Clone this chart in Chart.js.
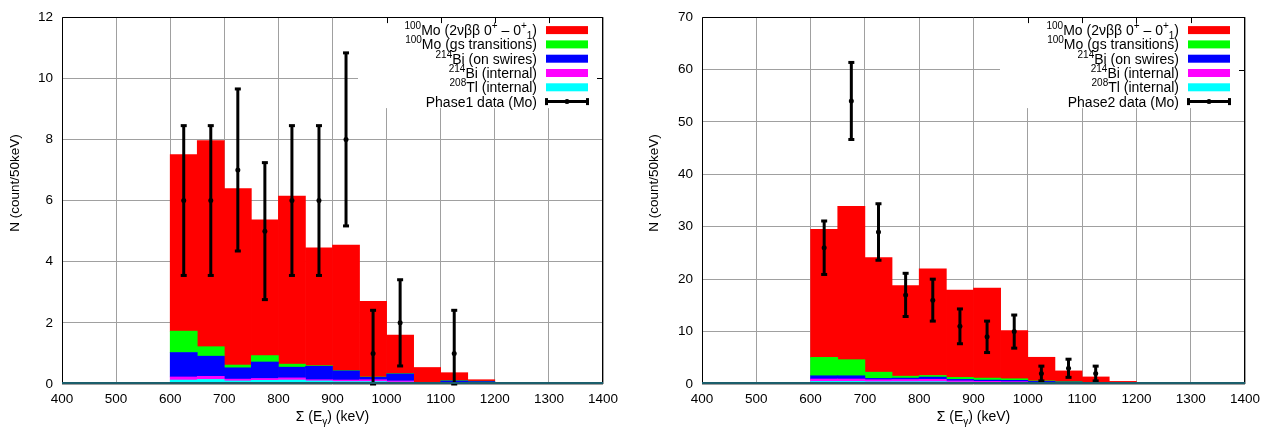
<!DOCTYPE html>
<html>
<head>
<meta charset="utf-8">
<script src="https://cdn.jsdelivr.net/npm/chart.js@4.4.1/dist/chart.umd.min.js"></script>
<style>
  html, body { margin: 0; padding: 0; background: #fff; }
  #wrap { position: relative; width: 1276px; height: 430px; }
  canvas { position: absolute; top: 0; }
</style>
</head>
<body>
<div id="wrap">
  <canvas id="phase1" width="638" height="430" style="left:0"></canvas>
  <canvas id="phase2" width="638" height="430" style="left:638px"></canvas>
</div>
<script>
// bin centres, 50 keV bins from 600 to 1200
const binCenters = [625, 675, 725, 775, 825, 875, 925, 975, 1025, 1075, 1125, 1175];

// Phase 1 MC components (counts / 50 keV)
const p1Mo2nuExc = [5.77, 6.74, 5.77, 4.44, 5.50, 3.85, 4.10, 2.47, 1.26, 0.49, 0.26, 0.05];
const p1MoGs     = [0.70, 0.31, 0.09, 0.21, 0.10, 0.02, 0.01, 0.01, 0.01, 0.01, 0.01, 0.01];
const p1BiSwires = [0.80, 0.66, 0.37, 0.54, 0.35, 0.44, 0.30, 0.08, 0.23, 0.01, 0.06, 0.05];
const p1BiInt    = [0.10, 0.10, 0.06, 0.06, 0.07, 0.04, 0.05, 0.06, 0.04, 0.01, 0.02, 0.02];
const p1TlInt    = [0.13, 0.15, 0.10, 0.12, 0.13, 0.10, 0.08, 0.08, 0.06, 0.02, 0.02, 0.01];
// Phase 1 data
const p1Data  = [6, 6, 7, 5, 6, 6, 8, 1, 2, null, 1, null];
const p1ErrLo = [2.45, 2.45, 2.65, 2.24, 2.45, 2.45, 2.83, 1.0, 1.41, null, 1.0, null];
const p1ErrHi = [2.45, 2.45, 2.65, 2.24, 2.45, 2.45, 2.83, 1.41, 1.41, null, 1.41, null];

// Phase 2 MC components
const p2Mo2nuExc = [24.42, 29.26, 21.84, 17.30, 20.33, 16.64, 17.17, 9.20, 4.50, 2.05, 1.05, 0.38];
const p2MoGs     = [3.51, 3.07, 1.19, 0.37, 0.31, 0.38, 0.38, 0.30, 0.10, 0.07, 0.05, 0.02];
const p2BiSwires = [0.62, 0.62, 0.25, 0.28, 0.42, 0.28, 0.25, 0.25, 0.20, 0.13, 0.10, 0.02];
const p2BiInt    = [0.45, 0.45, 0.38, 0.40, 0.45, 0.25, 0.20, 0.20, 0.10, 0.10, 0.05, 0.03];
const p2TlInt    = [0.50, 0.50, 0.44, 0.45, 0.45, 0.35, 0.30, 0.25, 0.20, 0.15, 0.10, 0.05];
// Phase 2 data
const p2Data  = [26, 54, 29, 17, 16, 11, 9, 10, 2, 3, 2, null];
const p2ErrLo = [5.1, 7.35, 5.39, 4.12, 4.0, 3.32, 3.0, 3.16, 1.41, 1.73, 1.41, null];
const p2ErrHi = [5.1, 7.35, 5.39, 4.12, 4.0, 3.32, 3.0, 3.16, 1.41, 1.73, 1.41, null];

// legend text, s: 1 = superscript, -1 = subscript
const mcLabels = [
  [{t: '100', s: 1}, {t: 'Mo (2νββ 0'}, {t: '+', s: 1}, {t: ' – 0'}, {t: '+', s: 1}, {t: '1', s: -1}, {t: ')'}],
  [{t: '100', s: 1}, {t: 'Mo (gs transitions)'}],
  [{t: '214', s: 1}, {t: 'Bi (on swires)'}],
  [{t: '214', s: 1}, {t: 'Bi (internal)'}],
  [{t: '208', s: 1}, {t: 'Tl (internal)'}]
];
const mcColors = ['#ff0000', '#00ff00', '#0000ff', '#ff00ff', '#00ffff'];
const xTitle = [{t: 'Σ (E'}, {t: 'γ', s: -1}, {t: ') (keV)'}];
const yTitle = 'N (count/50keV)';

const FONT = '"Liberation Sans", Arial, sans-serif';

function fontFor(s) {
  return (s ? '10px ' : '14px ') + FONT;
}
function richWidth(ctx, segs) {
  let w = 0;
  segs.forEach(sg => { ctx.font = fontFor(sg.s); w += ctx.measureText(sg.t).width; });
  return w;
}
function drawRich(ctx, segs, x, y) {
  segs.forEach(sg => {
    ctx.font = fontFor(sg.s);
    const dy = sg.s === 1 ? -6 : (sg.s === -1 ? 3.5 : 0);
    ctx.fillText(sg.t, x, y + dy);
    x += ctx.measureText(sg.t).width;
  });
}

// gnuplot-ish decorations: error bars, legend box, border, axis titles
function decor(cfg) {
  return {
    id: 'decor',
    afterDatasetsDraw(chart) {
      const ctx = chart.ctx, xs = chart.scales.x, ys = chart.scales.y;
      ctx.save();
      ctx.fillStyle = '#000';
      ctx.strokeStyle = '#000';
      ctx.lineWidth = 3;
      cfg.data.forEach((v, i) => {
        if (v === null) return;
        const x = xs.getPixelForValue(binCenters[i]);
        const yTop = ys.getPixelForValue(v + cfg.errHi[i]);
        const yBot = ys.getPixelForValue(Math.max(0, v - cfg.errLo[i]));
        ctx.beginPath();
        ctx.moveTo(x, yTop);
        ctx.lineTo(x, yBot);
        ctx.stroke();
        ctx.fillRect(x - 3, yTop - 1.5, 6, 3);
        ctx.fillRect(x - 3, yBot - 1.5, 6, 3);
      });
      ctx.restore();
    },
    afterDraw(chart) {
      const ctx = chart.ctx, a = chart.chartArea;
      const xs = chart.scales.x, ys = chart.scales.y;
      ctx.save();
      // legend box (white, hides the grid)
      const bx = a.right - 245, by = a.top, bw = 245, bh = 91;
      ctx.fillStyle = '#fff';
      ctx.fillRect(bx, by, bw, bh);
      // inward tick marks visible inside the legend box
      ctx.save();
      ctx.beginPath();
      ctx.rect(bx, by, bw, bh);
      ctx.clip();
      ctx.strokeStyle = '#000';
      ctx.lineWidth = 1;
      xs.ticks.forEach(t => {
        const x = Math.round(xs.getPixelForValue(t.value)) + 0.5;
        ctx.beginPath(); ctx.moveTo(x, a.top); ctx.lineTo(x, a.top + 6); ctx.stroke();
      });
      ys.ticks.forEach(t => {
        const y = Math.round(ys.getPixelForValue(t.value)) + 0.5;
        ctx.beginPath(); ctx.moveTo(a.right, y); ctx.lineTo(a.right - 6, y); ctx.stroke();
      });
      ctx.restore();

      // legend entries
      ctx.fillStyle = '#000';
      ctx.textBaseline = 'alphabetic';
      const textRight = a.right - 66;
      const swL = a.right - 57, swR = a.right - 15;
      for (let k = 0; k < 6; k++) {
        const cy = a.top + 13 + k * 14.3;
        const segs = k < 5 ? mcLabels[k] : [{t: cfg.dataLabel}];
        ctx.fillStyle = '#000';
        drawRich(ctx, segs, textRight - richWidth(ctx, segs), cy + 5);
        if (k < 5) {
          ctx.fillStyle = mcColors[k];
          ctx.fillRect(swL, cy - 4, swR - swL, 8);
        } else {
          ctx.strokeStyle = '#000';
          ctx.lineWidth = 3;
          ctx.beginPath(); ctx.moveTo(swL, cy); ctx.lineTo(swR, cy); ctx.stroke();
          ctx.fillRect(swL - 1, cy - 3.5, 3, 7);
          ctx.fillRect(swR - 2, cy - 3.5, 3, 7);
          ctx.beginPath(); ctx.arc((swL + swR) / 2, cy, 2.5, 0, Math.PI * 2); ctx.fill();
        }
      }

      // plot border
      ctx.strokeStyle = '#000';
      ctx.lineWidth = 1;
      const L = Math.round(a.left) + 0.5, R = Math.round(a.right) - 0.5;
      const T = Math.round(a.top) + 0.5, B = Math.round(a.bottom);
      ctx.beginPath();
      ctx.moveTo(L, B); ctx.lineTo(L, T); ctx.lineTo(R, T); ctx.lineTo(R, B);
      ctx.stroke();
      ctx.strokeStyle = '#1b5e6b';
      ctx.lineWidth = 2;
      ctx.beginPath(); ctx.moveTo(a.left, B - 1); ctx.lineTo(a.right, B - 1); ctx.stroke();

      // axis titles
      ctx.fillStyle = '#000';
      const xw = richWidth(ctx, xTitle);
      drawRich(ctx, xTitle, (a.left + a.right) / 2 - xw / 2, 421);
      ctx.translate(cfg.yTitleX, 183);
      ctx.rotate(-Math.PI / 2);
      ctx.font = '13.5px ' + FONT;
      ctx.textAlign = 'center';
      ctx.textBaseline = 'middle';
      ctx.fillText(yTitle, 0, 0);
      ctx.restore();
    }
  };
}

function makeChart(id, series, data, errLo, errHi, yMax, yStep, yWidth, padRight, dataLabel, yTitleX) {
  // stack bottom-up: Tl, Bi internal, Bi swires, Mo gs, Mo exc
  const order = [4, 3, 2, 1, 0];
  let base = binCenters.map(() => 0);
  const datasets = [];
  order.forEach(k => {
    const vals = series[k];
    datasets.push({
      type: 'bar',
      label: 'mc' + k,
      data: binCenters.map((x, i) => ({x: x, y: [base[i], base[i] + vals[i]]})),
      backgroundColor: mcColors[k],
      borderWidth: 0,
      grouped: false,
      barPercentage: 1,
      categoryPercentage: 1,
      order: 2
    });
    base = base.map((b, i) => b + vals[i]);
  });
  datasets.push({
    type: 'scatter',
    label: dataLabel,
    data: binCenters.map((x, i) => ({x: x, y: data[i]})).filter(p => p.y !== null),
    pointRadius: 2.5,
    pointBackgroundColor: '#000',
    pointBorderWidth: 0,
    order: 0
  });

  const tickFont = {family: FONT, size: 13.5};
  return new Chart(document.getElementById(id), {
    type: 'bar',
    data: {datasets: datasets},
    options: {
      responsive: false,
      animation: false,
      layout: {padding: {top: 12, right: padRight, left: 0, bottom: 0}},
      plugins: {legend: {display: false}, tooltip: {enabled: false}},
      scales: {
        x: {
          type: 'linear', min: 400, max: 1400, offset: false,
          grid: {color: '#a0a0a0', offset: false, drawTicks: false},
          border: {display: false},
          ticks: {stepSize: 100, color: '#000', font: tickFont, padding: 7, maxRotation: 0,
                  callback: v => String(v)},
          afterFit: s => { s.height = 46; }
        },
        y: {
          min: 0, max: yMax,
          grid: {color: '#a0a0a0', drawTicks: false},
          border: {display: false},
          ticks: {stepSize: yStep, color: '#000', font: tickFont, padding: 9,
                  callback: v => String(v)},
          afterFit: s => { s.width = yWidth; }
        }
      }
    },
    plugins: [decor({data: data, errLo: errLo, errHi: errHi, dataLabel: dataLabel, yTitleX: yTitleX})]
  });
}

makeChart('phase1', [p1Mo2nuExc, p1MoGs, p1BiSwires, p1BiInt, p1TlInt],
  p1Data, p1ErrLo, p1ErrHi, 12, 2, 62, 35, 'Phase1 data (Mo)', 15);
makeChart('phase2', [p2Mo2nuExc, p2MoGs, p2BiSwires, p2BiInt, p2TlInt],
  p2Data, p2ErrLo, p2ErrHi, 70, 10, 64, 31, 'Phase2 data (Mo)', 16);
</script>
</body>
</html>
